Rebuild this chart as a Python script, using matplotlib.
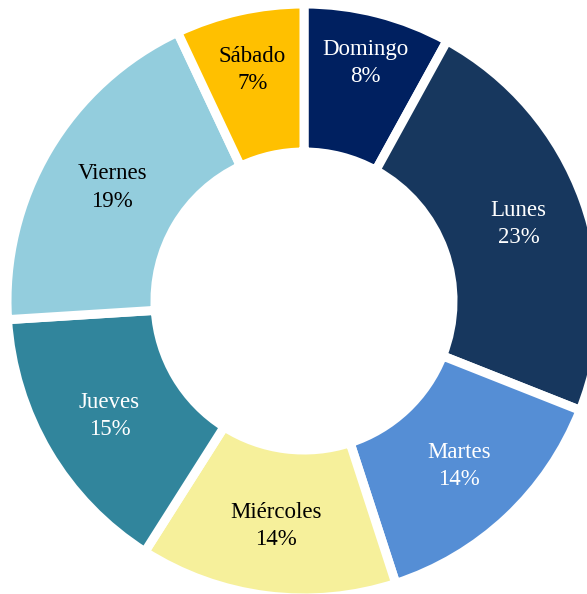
import numpy as np
import matplotlib.pyplot as plt

# datos
dias = ['Domingo', 'Lunes', 'Martes', 'Miércoles', 'Jueves', 'Viernes', 'Sábado']
porcentajes = [8, 23, 14, 14, 15, 19, 7]
colores = ['#002060', '#17375E', '#558ED5', '#F6F09B', '#31859C', '#93CDDD', '#FFC000']
color_texto = ['white', 'white', 'white', 'black', 'white', 'black', 'black']
# distancia de cada etiqueta al centro (px), las porciones chicas van mas afuera
dist_etiqueta = [246, 228, 226, 227, 226, 223, 237]

W, H = 587, 594
fig = plt.figure(figsize=(W / 100, H / 100), dpi=100)
ax = fig.add_axes([0, 0, 1, 1])

radio = 297
ancho = 148
cx, cy = 304, H - 301

wedges, _ = ax.pie(
    porcentajes,
    colors=colores,
    startangle=90,
    counterclock=False,
    center=(cx, cy),
    radius=radio,
    wedgeprops=dict(width=ancho, edgecolor='white', linewidth=6.5),
    frame=True,
)
ax.set_xlim(0, W)
ax.set_ylim(0, H)
ax.set_aspect('equal')
ax.axis('off')

for w, d, p, c, r in zip(wedges, dias, porcentajes, color_texto, dist_etiqueta):
    ang = np.deg2rad((w.theta1 + w.theta2) / 2)
    ax.text(cx + r * np.cos(ang), cy + r * np.sin(ang), f'{d}\n{p}%',
            ha='center', va='center', color=c, fontsize=16.5,
            family='Liberation Serif', linespacing=1.4)

fig.savefig('out.png', dpi=100)
